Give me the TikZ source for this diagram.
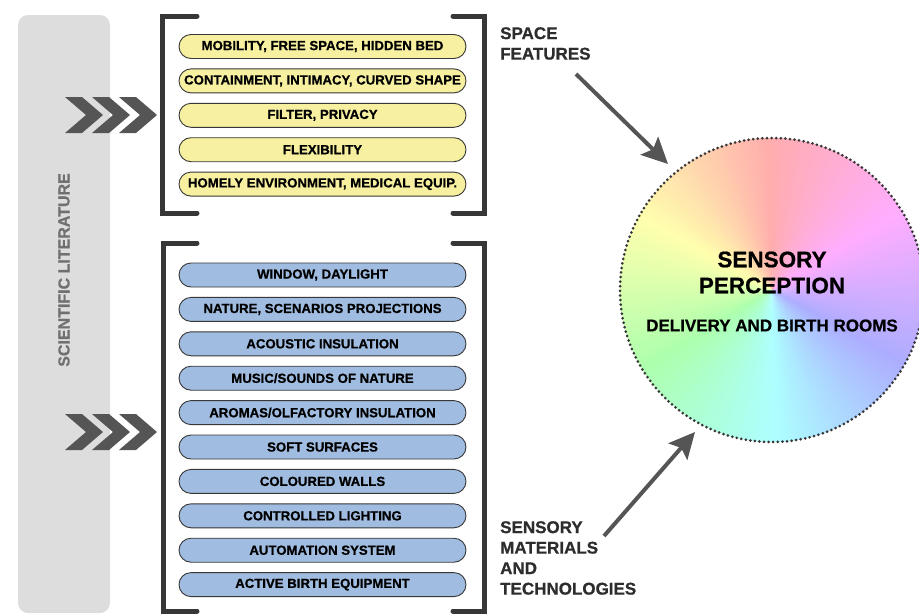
\documentclass[tikz,border=0pt]{standalone}
\usepackage{fontspec}
\setmainfont{Liberation Sans}[BoldFeatures={FakeBold=0.7}]
\usetikzlibrary{arrows.meta}
\definecolor{pillyellow}{RGB}{246,240,160}
\definecolor{pillblue}{RGB}{160,188,224}
\definecolor{edgecol}{RGB}{55,55,55}
\definecolor{panelgray}{RGB}{221,221,221}
\definecolor{chevgray}{RGB}{85,85,85}
\definecolor{labelgray}{RGB}{45,45,45}
\definecolor{sidegray}{RGB}{112,112,112}
\definecolor{arrgray}{RGB}{85,85,85}
\tikzset{
  pill/.style={draw=edgecol, line width=0.9pt, rounded corners=12pt,
    minimum width=287pt, minimum height=24pt, inner sep=0pt,
    font=\fontsize{13.2}{15}\selectfont\bfseries, text=black},
  ypill/.style={pill, fill=pillyellow},
  bpill/.style={pill, fill=pillblue},
  bracketline/.style={draw=edgecol, line width=5pt, line cap=round, line join=miter},
  chevron/.style={fill=chevgray},
  biglabel/.style={font=\fontsize{17}{20.5}\selectfont\bfseries, text=labelgray, align=left, inner sep=0pt},
  feedarrow/.style={draw=arrgray, line width=4pt, -{Stealth[length=26pt,width=25pt,inset=5pt]}},
}
\begin{document}
\begin{tikzpicture}[x=1pt,y=-1pt]
\useasboundingbox (0,0) rectangle (919,614);
% side panel
\fill[panelgray, rounded corners=10pt] (18,15) rectangle (110,613);
\node[rotate=90, font=\fontsize{16}{18}\selectfont\bfseries, text=sidegray] (lit) at (64,270) {SCIENTIFIC LITERATURE};
% chevrons
\foreach \cy in {115,432}{
  \foreach \cx in {65,92,119}{
    \fill[chevron] (\cx,\cy-18) -- (\cx+17,\cy-18) -- (\cx+38,\cy) -- (\cx+17,\cy+18) -- (\cx,\cy+18) -- (\cx+21,\cy) -- cycle;
  }
}
% brackets
\draw[bracketline] (197,16) -- (162,16) -- (162,213) -- (197,213);
\draw[bracketline] (453,16) -- (484,16) -- (484,213) -- (453,213);
\draw[bracketline] (197,243) -- (163,243) -- (163,611) -- (197,611);
\draw[bracketline] (453,243) -- (484,243) -- (484,611) -- (453,611);
% yellow pills
\node[ypill] (y1) at (322.5,46.5) {MOBILITY, FREE SPACE, HIDDEN BED};
\node[ypill] (y2) at (322.5,80.9) {CONTAINMENT, INTIMACY, CURVED SHAPE};
\node[ypill] (y3) at (322.5,115.3) {FILTER, PRIVACY};
\node[ypill] (y4) at (322.5,149.7) {FLEXIBILITY};
\node[ypill] (y5) at (322.5,184.1) {HOMELY ENVIRONMENT, MEDICAL EQUIP.};
% blue pills
\node[bpill] (b1) at (322.5,275) {WINDOW, DAYLIGHT};
\node[bpill] (b2) at (322.5,309.4) {NATURE, SCENARIOS PROJECTIONS};
\node[bpill] (b3) at (322.5,343.8) {ACOUSTIC INSULATION};
\node[bpill] (b4) at (322.5,378.2) {MUSIC/SOUNDS OF NATURE};
\node[bpill] (b5) at (322.5,412.6) {AROMAS/OLFACTORY INSULATION};
\node[bpill] (b6) at (322.5,447) {SOFT SURFACES};
\node[bpill] (b7) at (322.5,481.4) {COLOURED WALLS};
\node[bpill] (b8) at (322.5,515.8) {CONTROLLED LIGHTING};
\node[bpill] (b9) at (322.5,550.2) {AUTOMATION SYSTEM};
\node[bpill] (b10) at (322.5,584.6) {ACTIVE BIRTH EQUIPMENT};
% labels
\node[biglabel, anchor=north west] (sf) at (500,27) {SPACE\\FEATURES};
\node[biglabel, anchor=north west] (smt) at (500,521) {SENSORY\\MATERIALS\\AND\\TECHNOLOGIES};
% circle
\node[circle, minimum size=304pt, inner sep=0pt] (circ) at (772,290) {};
\begin{scope}[shift={(772,290)}, y=1pt]
  \foreach \a in {0,2,...,358}{
    \pgfmathtruncatemacro{\hh}{mod(\a+270,360)}
    \definecolor{wc}{Hsb}{\hh,0.32,1}
    \fill[wc] (0,0) -- (\a:152) arc[start angle=\a, end angle=\a+2.8, radius=152] -- cycle;
  }
\end{scope}
\draw[draw=edgecol, line width=3pt, line cap=round, dash pattern=on 0pt off 4.6pt] (circ.center) circle[radius=152pt];
\node[font=\fontsize{22.5}{26}\selectfont\bfseries, align=center, inner sep=0pt] (sp) at (772,272.5) {SENSORY\\PERCEPTION};
\node[font=\fontsize{17}{20}\selectfont\bfseries, inner sep=0pt] (dbr) at (772,325.5) {DELIVERY AND BIRTH ROOMS};
% arrows
\coordinate (a1s) at (576,74);
\coordinate (a1e) at (668,164);
\coordinate (a2s) at (604,536);
\coordinate (a2e) at (695,432);
\draw[feedarrow] (a1s) -- (a1e);
\draw[feedarrow] (a2s) -- (a2e);
\end{tikzpicture}
\end{document}
